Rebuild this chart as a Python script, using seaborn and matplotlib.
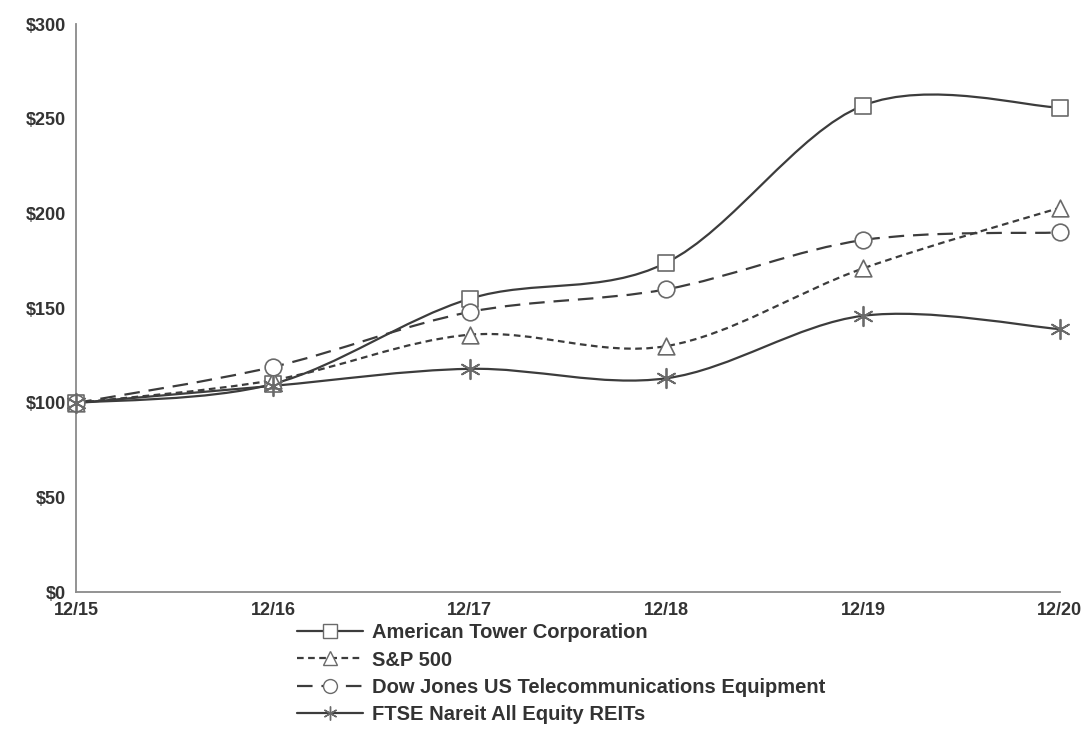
import numpy as np
import pandas as pd
import matplotlib
matplotlib.use("Agg")
import matplotlib.pyplot as plt
import seaborn as sns
from matplotlib.path import Path
from matplotlib.patches import PathPatch
from matplotlib.lines import Line2D

# --- data ---
years = ["12/15", "12/16", "12/17", "12/18", "12/19", "12/20"]
amt = [100, 110, 155, 174, 257, 256]
sp500 = [100, 112, 136, 130, 171, 203]
dj_telecom = [100, 119, 148, 160, 186, 190]
ftse_reits = [100, 109, 118, 113, 146, 139]

series_names = [
    "American Tower Corporation",
    "S&P 500",
    "Dow Jones US Telecommunications Equipment",
    "FTSE Nareit All Equity REITs",
]
series_values = [amt, sp500, dj_telecom, ftse_reits]
y_ticks = [0, 50, 100, 150, 200, 250, 300]

sns.set_theme(style="white")
plt.rcParams["font.family"] = ["Liberation Sans", "DejaVu Sans"]

line_col = "#3c3c3c"
mark_col = "#6a6a6a"
styles = {
    "American Tower Corporation": dict(ls="-", dash=None, marker="s", ms=12),
    "S&P 500": dict(ls="--", dash=(3, 2), marker="^", ms=12),
    "Dow Jones US Telecommunications Equipment": dict(ls="--", dash=(7, 4), marker="o", ms=12),
    "FTSE Nareit All Equity REITs": dict(ls="-", dash=None, marker=(6, 2, 0), ms=14),
}

df = pd.DataFrame(
    [(i, y, name, v) for name, vals in zip(series_names, series_values)
     for i, (y, v) in enumerate(zip(years, vals))],
    columns=["pos", "year", "series", "value"],
)


def smooth_path(xs, ys):
    # Excel-style smoothed line: Catmull-Rom segments as cubic Beziers
    pts = np.column_stack([xs, ys]).astype(float)
    verts = [pts[0]]
    codes = [Path.MOVETO]
    n = len(pts)
    for i in range(n - 1):
        p0 = pts[i - 1] if i > 0 else pts[i]
        p1, p2 = pts[i], pts[i + 1]
        p3 = pts[i + 2] if i + 2 < n else pts[i + 1]
        c1 = p1 + (p2 - p0) / 6.0
        c2 = p2 - (p3 - p1) / 6.0
        verts += [c1, c2, p2]
        codes += [Path.CURVE4] * 3
    return Path(verts, codes)


fig, ax = plt.subplots(figsize=(10.89, 7.33), dpi=100)
fig.subplots_adjust(left=0.07, right=0.973, top=0.967, bottom=0.192)

for name in series_names:
    st = styles[name]
    sub = df[df["series"] == name]
    patch = PathPatch(smooth_path(sub["pos"], sub["value"]), fill=False,
                      edgecolor=line_col, lw=1.6, linestyle=st["ls"], zorder=2)
    if st["dash"]:
        patch.set_linestyle((0, st["dash"]))
    ax.add_patch(patch)
    if isinstance(st["marker"], tuple):
        # asterisk marker is unfilled: colour it directly
        sns.scatterplot(data=sub, x="pos", y="value", ax=ax, marker=st["marker"],
                        s=st["ms"] ** 2, color=mark_col, linewidth=1.3,
                        zorder=3, legend=False, clip_on=False)
    else:
        sns.scatterplot(data=sub, x="pos", y="value", ax=ax, marker=st["marker"],
                        s=st["ms"] ** 2, facecolor="white", edgecolor=mark_col,
                        linewidth=1.2, zorder=3, legend=False, clip_on=False)

ax.set_xlim(0, 5)
ax.set_ylim(0, 300)
ax.set_xticks(range(len(years)))
ax.set_xticklabels(years)
ax.set_yticks(y_ticks)
ax.set_yticklabels([f"${t}" for t in y_ticks])
ax.set_xlabel("")
ax.set_ylabel("")
sns.despine(ax=ax)
for sp in ["left", "bottom"]:
    ax.spines[sp].set_color("#8a8a8a")
    ax.spines[sp].set_linewidth(1.3)
ax.tick_params(axis="both", colors="#8a8a8a", length=4, width=1,
               labelcolor="#333333", labelsize=13)
ax.tick_params(axis="x", pad=3)
for lbl in ax.get_xticklabels() + ax.get_yticklabels():
    lbl.set_fontweight("bold")

handles = []
for name in series_names:
    st = styles[name]
    h = Line2D([0], [0], color=line_col, lw=1.6, linestyle=st["ls"],
               marker=st["marker"], markersize=10, markerfacecolor="white",
               markeredgecolor=mark_col)
    if st["dash"]:
        h.set_dashes(st["dash"])
    handles.append(h)

fig.legend(handles, series_names, loc="upper left", bbox_to_anchor=(0.265, 0.161),
           frameon=False, handlelength=3.3, handletextpad=0.45, labelspacing=0.42,
           borderaxespad=0, prop={"size": 14.5, "weight": "bold"}, labelcolor="#333333")

fig.savefig("out.png", dpi=100)
